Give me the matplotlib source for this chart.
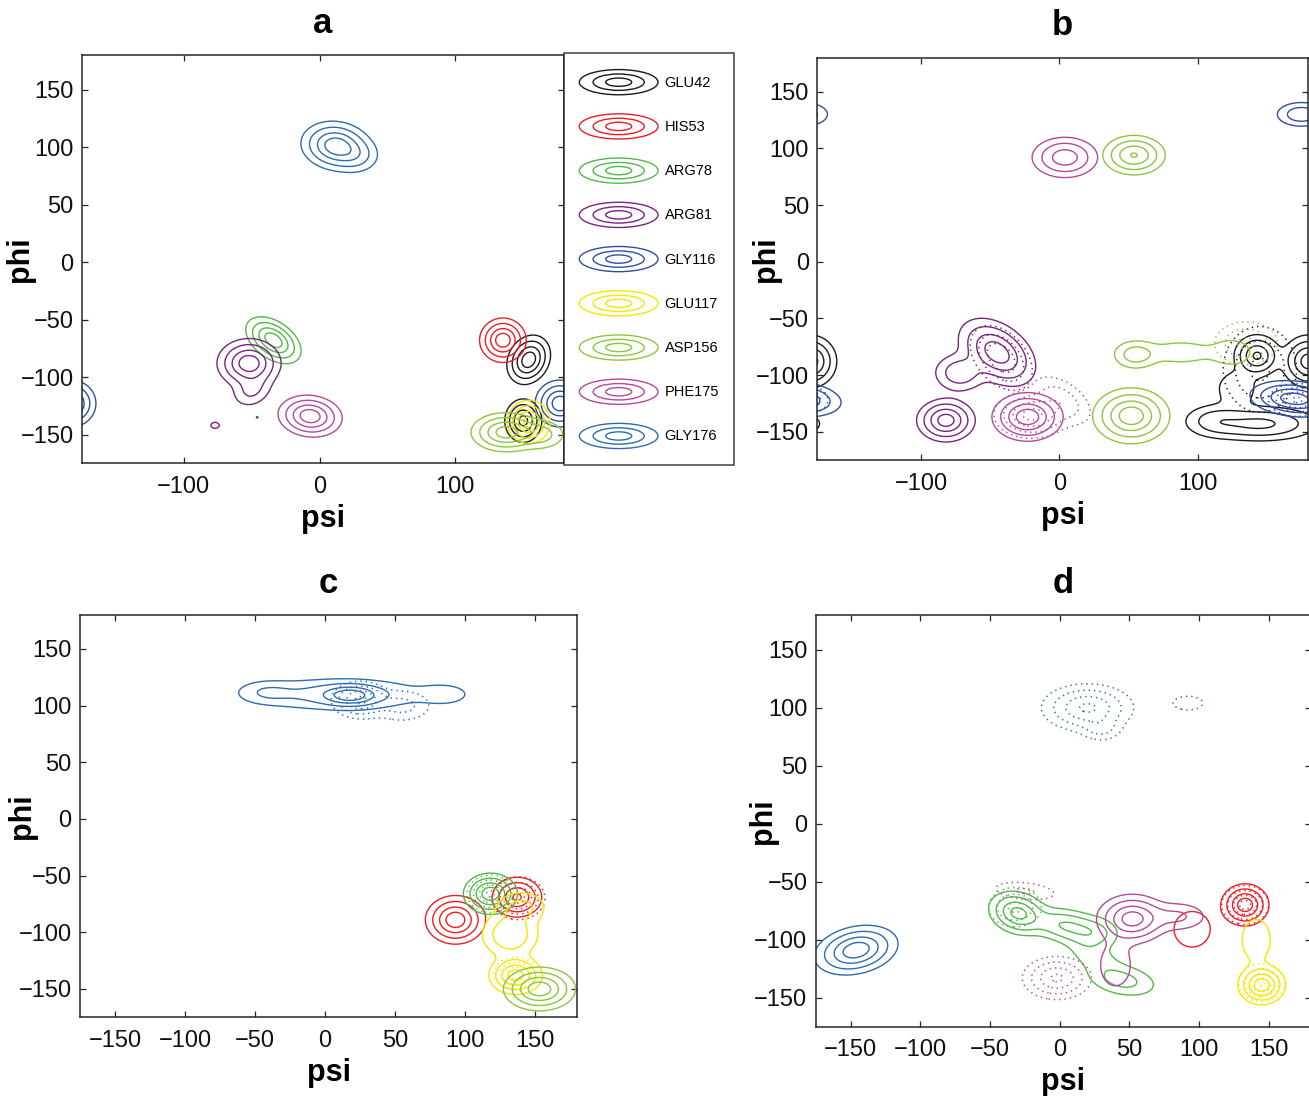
import numpy as np
import matplotlib
matplotlib.use("Agg")
import matplotlib.pyplot as plt
from matplotlib.legend_handler import HandlerBase
from matplotlib.patches import Ellipse, Patch

plt.rcParams['font.family'] = ['Liberation Sans', 'DejaVu Sans']
plt.rcParams['lines.dotted_pattern'] = [0.9, 2.6]

# ---------------- data ----------------
RESIDUES = ['GLU42', 'HIS53', 'ARG78', 'ARG81', 'GLY116', 'GLU117', 'ASP156', 'PHE175', 'GLY176']
COLORS = ['#1a1a1a', '#ee1c24', '#52b848', '#7a2383', '#2f4fa4', '#f7e600', '#8cc63e', '#b4489c', '#2c6cb0']
LEVELS = [0.1, 0.27, 0.53, 0.8]
PHI_TICKS = [-150, -100, -50, 0, 50, 100, 150]
PSI_TICKS_TOP = [-100, 0, 100]
PSI_TICKS_BOTTOM = [-150, -100, -50, 0, 50, 100, 150]
PANEL_TITLES = ['a', 'b', 'c', 'd']

# density components: residue, style, psi, phi, sd_psi, sd_phi, rho, amplitude
PANEL_A = [
    ('GLU42', '-', 154, -85, 7.5, 10, 0.2, 1.0),
    ('GLU42', '-', 150, -138, 6.5, 9, 0.0, 0.9),
    ('HIS53', '-', 135, -68, 8, 9, 0.0, 1.0),
    ('ARG78', '-', -34, -68, 9.5, 9.5, -0.45, 1.0),
    ('ARG81', '-', -52, -88, 11, 10, 0.0, 1.0),
    ('ARG81', '-', -50, -112, 8, 8, 0.2, 0.3),
    ('ARG81', '-', -77, -142, 3, 2.5, 0.0, 0.17),
    ('ARG81', '-', -46, -135, 1.2, 1.2, 0.0, 0.12),
    ('GLY116', '-', 177, -123, 8.5, 9.5, 0.0, 1.0),
    ('GLU117', '-', 154, -139, 7.5, 9, 0.0, 0.9),
    ('ASP156', '-', 137, -148, 12, 8, 0.0, 0.95),
    ('ASP156', '-', 163, -150, 10, 7, 0.0, 0.35),
    ('PHE175', '-', -7, -134, 11, 8.5, -0.1, 1.0),
    ('GLY176', '-', 12, 101, 12, 10, -0.1, 1.0),
    ('GLY176', '-', 28, 92, 9, 8, 0.0, 0.25),
]
PANEL_B = [
    ('GLU42', '-', 143, -83, 8, 9, 0.0, 0.85),
    ('GLU42', '-', 180, -88, 9, 11, 0.0, 0.95),
    ('GLU42', '-', 145, -143, 22, 8, 0.0, 0.6),
    ('GLU42', '-', 112, -140, 12, 8, 0.0, 0.3),
    ('GLU42', '-', 128, -112, 9, 10, 0.0, 0.25),
    ('GLU42', ':', 145, -95, 14, 20, 0.0, 0.6),
    ('ARG81', '-', -45, -80, 13, 14, -0.4, 1.0),
    ('ARG81', '-', -72, -98, 10, 9, 0.0, 0.45),
    ('ARG81', '-', -82, -140, 10, 9, 0.0, 0.95),
    ('ARG81', ':', -42, -85, 11, 14, -0.4, 0.8),
    ('GLY116', '-', 175, 130, 10, 6, 0.0, 0.45),
    ('GLY116', '-', 170, -121, 15, 7.5, -0.2, 1.0),
    ('GLY116', ':', 172, -122, 10, 7, 0.0, 0.85),
    ('ASP156', '-', 54, 94, 11, 8.5, 0.0, 0.82),
    ('ASP156', '-', 52, -136, 13, 11.5, 0.0, 1.0),
    ('ASP156', '-', 55, -82, 9, 7, 0.0, 0.4),
    ('ASP156', '-', 88, -80, 16, 7, 0.0, 0.2),
    ('ASP156', '-', 125, -80, 10, 8, 0.0, 0.22),
    ('ASP156', ':', 135, -72, 12, 10, 0.0, 0.6),
    ('PHE175', '-', 4, 92, 12, 9, 0.0, 0.7),
    ('PHE175', '-', -23, -137, 12, 10, 0.0, 1.0),
    ('PHE175', ':', -20, -135, 13, 10, 0.0, 0.9),
    ('PHE175', ':', 2, -122, 12, 12, -0.5, 0.4),
]
PANEL_C = [
    ('HIS53', '-', 93, -89, 10, 10, 0.0, 1.0),
    ('HIS53', '-', 137, -69, 8.5, 8.5, 0.0, 0.85),
    ('HIS53', ':', 138, -70, 9, 9, 0.0, 0.9),
    ('ARG78', '-', 118, -66, 9, 8.5, 0.0, 1.0),
    ('ARG78', ':', 118, -66, 8, 8, 0.0, 0.85),
    ('GLU117', '-', 136, -138, 9, 8, 0.0, 0.95),
    ('GLU117', '-', 132, -102, 11, 11, 0.0, 0.5),
    ('GLU117', '-', 140, -78, 10, 8, 0.0, 0.35),
    ('GLU117', ':', 136, -136, 8, 7, 0.0, 0.7),
    ('ASP156', '-', 153, -150, 12, 9, 0.0, 1.0),
    ('GLY176', '-', 18, 109, 11, 5, 0.0, 0.7),
    ('GLY176', '-', 10, 110, 35, 8, 0.0, 0.4),
    ('GLY176', '-', -42, 112, 12, 6, 0.0, 0.2),
    ('GLY176', '-', 85, 110, 12, 6, 0.0, 0.18),
    ('GLY176', ':', 25, 105, 10, 8, 0.0, 0.85),
    ('GLY176', ':', 55, 100, 12, 8, 0.0, 0.35),
]
PANEL_D = [
    ('HIS53', '-', 133, -70, 8, 8.5, 0.0, 1.0),
    ('HIS53', '-', 95, -91, 11, 13, 0.0, 0.2),
    ('HIS53', ':', 133, -70, 8, 8, 0.0, 0.9),
    ('ARG78', '-', -30, -77, 10, 9, -0.2, 0.9),
    ('ARG78', '-', 5, -88, 14, 8, -0.3, 0.55),
    ('ARG78', '-', 25, -95, 10, 8, 0.0, 0.3),
    ('ARG78', '-', 45, -135, 14, 8, -0.3, 0.35),
    ('ARG78', '-', 25, -115, 12, 10, -0.5, 0.18),
    ('ARG78', ':', -32, -72, 10, 9, 0.0, 0.6),
    ('GLU117', '-', 145, -139, 8, 8, 0.0, 1.0),
    ('GLU117', '-', 141, -100, 8, 14, 0.0, 0.22),
    ('GLU117', ':', 145, -137, 8, 8, 0.0, 0.85),
    ('PHE175', '-', 52, -82, 12, 10, 0.0, 0.95),
    ('PHE175', '-', 85, -80, 12, 7, 0.0, 0.3),
    ('PHE175', '-', 40, -122, 9, 15, 0.0, 0.2),
    ('PHE175', ':', -2, -133, 12, 9, 0.0, 0.85),
    ('PHE175', ':', -25, -58, 14, 5, -0.3, 0.3),
    ('GLY176', '-', -146, -109, 14, 10, 0.25, 1.0),
    ('GLY176', ':', 20, 100, 16, 10, 0.0, 0.85),
    ('GLY176', ':', 30, 82, 8, 6, 0.0, 0.3),
    ('GLY176', ':', 92, 104, 9, 5, 0.0, 0.2),
]
PANELS = [PANEL_A, PANEL_B, PANEL_C, PANEL_D]

# ---------------- layout ----------------
W, H = 1309, 1096
fig = plt.figure(figsize=(W / 100, H / 100), dpi=100)
rects_px = [(82, 55, 564, 463.3), (817.3, 57.7, 1308.3, 460),
            (80, 615, 577.3, 1017.3), (815.7, 615, 1310.6, 1026.7)]
ylabel_right_px = [35, 781, 37, 778]

g = np.linspace(-180, 180, 361)
PSI, PHI = np.meshgrid(g, g)


def density(comps):
    Z = np.zeros_like(PSI)
    for (_, _, cx, cy, sx, sy, rho, amp) in comps:
        dx = (PSI - cx + 180) % 360 - 180
        dy = (PHI - cy + 180) % 360 - 180
        u, v = dx / sx, dy / sy
        Z += amp * np.exp(-(u * u - 2 * rho * u * v + v * v) / (2 * (1 - rho * rho)))
    return Z


for i, (rect, comps) in enumerate(zip(rects_px, PANELS)):
    l, t, r, b = rect
    ax = fig.add_axes([l / W, 1 - b / H, (r - l) / W, (b - t) / H])
    for res, col in zip(RESIDUES, COLORS):
        for style in ['-', ':']:
            sel = [c for c in comps if c[0] == res and c[1] == style]
            if not sel:
                continue
            Z = density(sel)
            ax.contour(PSI, PHI, Z, levels=LEVELS, colors=[col],
                       linewidths=1.0 if style == '-' else 1.1,
                       linestyles='solid' if style == '-' else 'dotted')
    ax.set_xlim(-175, 180)
    ax.set_ylim(-175, 180)
    ax.set_yticks(PHI_TICKS)
    ax.set_xticks(PSI_TICKS_TOP if i < 2 else PSI_TICKS_BOTTOM)
    ax.set_xticklabels([str(v).replace('-', '\u2212') for v in ax.get_xticks()])
    ax.set_yticklabels([str(v).replace('-', '\u2212') for v in PHI_TICKS])
    ax.tick_params(direction='in', top=True, right=True, length=4, width=0.9,
                   labelsize=17, color='#262626', labelcolor='#111111')
    ax.tick_params(axis='x', pad=9)
    ax.tick_params(axis='y', pad=6)
    for s in ax.spines.values():
        s.set_linewidth(1.1)
        s.set_color('#262626')
    ax.set_title(PANEL_TITLES[i], fontsize=25, fontweight='bold', pad=16)
    ax.set_xlabel('psi', fontsize=22, fontweight='bold', labelpad=4.5)
    ax.set_ylabel('phi', fontsize=22, fontweight='bold')
    ax.yaxis.set_label_coords((ylabel_right_px[i] - l) / (r - l), 0.5)


class RingHandler(HandlerBase):
    def create_artists(self, legend, orig_handle, xdescent, ydescent,
                       width, height, fontsize, trans):
        cx = width / 2 - xdescent
        cy = height / 2 - ydescent
        eh = width * 0.32
        arts = []
        for f in (1.0, 0.65, 0.33):
            arts.append(Ellipse((cx, cy), width * f, eh * f, fill=False,
                                edgecolor=orig_handle.get_edgecolor(), lw=1.0,
                                transform=trans))
        return arts


handles = [Patch(facecolor='none', edgecolor=c) for c in COLORS]
leg = fig.legend(handles, RESIDUES, handler_map={Patch: RingHandler()},
                 loc='upper left', bbox_to_anchor=(564 / W, 1 - 53 / H),
                 bbox_transform=fig.transFigure, fontsize=10.5,
                 handlelength=5.4, handleheight=2.55, labelspacing=1.13,
                 borderpad=1.05, handletextpad=0.45, frameon=True,
                 fancybox=False, edgecolor='#111111', borderaxespad=0)
leg.get_frame().set_linewidth(1.1)

fig.savefig('out.png', dpi=100, facecolor='white')
